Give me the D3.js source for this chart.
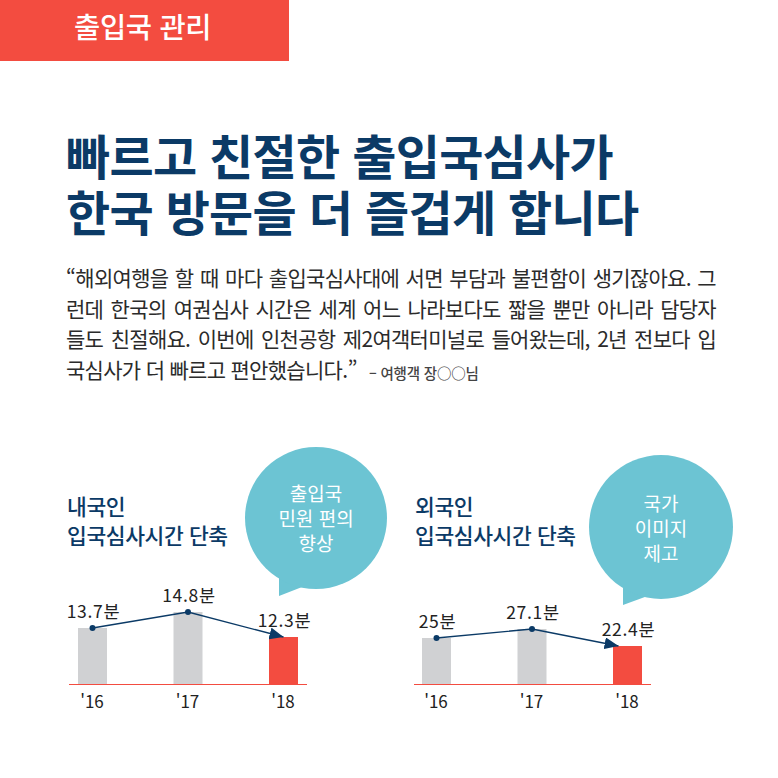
<!DOCTYPE html>
<html lang="ko">
<head>
<meta charset="utf-8">
<script src="https://d3js.org/d3.v7.min.js"></script>
<style>
  html, body { margin: 0; padding: 0; background: #fff; }
  svg { display: block; font-family: "Noto Sans CJK KR", sans-serif; }
</style>
</head>
<body>
<div id="chart"></div>
<script>
var years = ["'16", "'17", "'18"];
var domesticValues = [13.7, 14.8, 12.3];
var foreignValues = [25, 27.1, 22.4];
var valueLabelsDomestic = ["13.7분", "14.8분", "12.3분"];
var valueLabelsForeign = ["25분", "27.1분", "22.4분"];

var banner = "출입국 관리";
var titleLines = ["빠르고 친절한 출입국심사가", "한국 방문을 더 즐겁게 합니다"];
var quoteLines = [
    "“해외여행을 할 때 마다 출입국심사대에 서면 부담과 불편함이 생기잖아요. 그",
    "런데 한국의 여권심사 시간은 세계 어느 나라보다도 짧을 뿐만 아니라 담당자",
    "들도 친절해요. 이번에 인천공항 제2여객터미널로 들어왔는데, 2년 전보다 입",
    "국심사가 더 빠르고 편안했습니다.”"
];
var quoteSource = "– 여행객 장○○님";
var domesticHeading = ["내국인", "입국심사시간 단축"];
var foreignHeading = ["외국인", "입국심사시간 단축"];
var domesticBubble = ["출입국", "민원 편의", "향상"];
var foreignBubble = ["국가", "이미지", "제고"];

var navy = "#0b3a66", red = "#f34c40", grey = "#d0d1d3", teal = "#6cc4d3";

var svg = d3.select("#chart").append("svg")
    .attr("width", 778)
    .attr("height", 778);

svg.append("defs").append("marker")
    .attr("id", "arrow")
    .attr("markerUnits", "userSpaceOnUse")
    .attr("viewBox", "0 0 14 12")
    .attr("refX", 14)
    .attr("refY", 6)
    .attr("markerWidth", 14)
    .attr("markerHeight", 12)
    .attr("orient", "auto")
    .append("path")
    .attr("d", "M0,0L14,6L0,12Z")
    .attr("fill", navy);

// header
svg.append("rect").attr("width", 289).attr("height", 61).attr("fill", red);
svg.append("text").attr("x", 74).attr("y", 38)
    .attr("fill", "#fff").attr("font-size", 28.5).attr("font-weight", 500)
    .attr("letter-spacing", -0.3)
    .text(banner);

svg.selectAll(".title").data(titleLines).enter().append("text")
    .attr("class", "title")
    .attr("x", 66)
    .attr("y", function (d, i) { return 175 + i * 56; })
    .attr("fill", navy).attr("font-size", 48).attr("font-weight", 700)
    .attr("letter-spacing", -0.7)
    .text(function (d) { return d; });

// quote, justified by widening the word gaps
var quote = svg.selectAll(".quote").data(quoteLines).enter().append("text")
    .attr("class", "quote")
    .attr("x", 66)
    .attr("y", function (d, i) { return 286 + i * 30.7; })
    .attr("fill", "#2b2b2b").attr("font-size", 21)
    .attr("letter-spacing", -0.7)
    .text(function (d) { return d; });

quote.each(function (d, i) {
    if (i === quoteLines.length - 1) return;
    var gaps = d.split(" ").length - 1;
    var extra = (650 - this.getComputedTextLength()) / gaps;
    d3.select(this).attr("word-spacing", extra);
});

svg.append("text").attr("x", 369).attr("y", 379)
    .attr("fill", "#444").attr("font-size", 14.5).attr("font-weight", 500)
    .attr("letter-spacing", -0.2)
    .text(quoteSource);

function drawPanel(opt) {
    var g = svg.append("g");

    g.selectAll(".heading").data(opt.heading).enter().append("text")
        .attr("x", opt.headingX)
        .attr("y", function (d, i) { return 515 + i * 29; })
        .attr("fill", navy).attr("font-size", 21.5).attr("font-weight", 500)
        .attr("letter-spacing", -0.4)
        .text(function (d) { return d; });

    // speech bubble
    g.append("path")
        .attr("d", opt.tail)
        .attr("fill", teal);
    g.append("circle")
        .attr("cx", opt.bubble[0]).attr("cy", opt.bubble[1]).attr("r", opt.bubble[2])
        .attr("fill", teal);
    g.selectAll(".bubble").data(opt.bubbleText).enter().append("text")
        .attr("x", opt.bubble[0])
        .attr("y", function (d, i) { return opt.bubbleY + i * 25; })
        .attr("text-anchor", "middle")
        .attr("fill", "#fff").attr("font-size", 19)
        .text(function (d) { return d; });

    var x = d3.scalePoint().domain(years).range(opt.xRange);
    // the source bars are not drawn to one linear ratio, so the scale is piecewise
    var y = d3.scaleLinear().domain(opt.yDomain).range(opt.yRange);
    var baseY = 684;

    g.selectAll(".bar").data(opt.values).enter().append("rect")
        .attr("class", "bar")
        .attr("x", function (d, i) { return x(years[i]) - 14.5; })
        .attr("y", function (d) { return y(d); })
        .attr("width", 29)
        .attr("height", function (d) { return baseY - y(d); })
        .attr("fill", function (d, i) { return i === 2 ? red : grey; });

    g.append("line")
        .attr("x1", opt.baseX[0]).attr("x2", opt.baseX[1])
        .attr("y1", baseY + 0.5).attr("y2", baseY + 0.5)
        .attr("stroke", red).attr("stroke-width", 1.2);

    var line = d3.line()
        .x(function (d, i) { return x(years[i]) - (i === 2 ? opt.tipInset : 0); })
        .y(function (d) { return y(d); });

    g.append("path")
        .attr("d", line(opt.values))
        .attr("fill", "none")
        .attr("stroke", navy).attr("stroke-width", 1.3)
        .attr("marker-end", "url(#arrow)");

    g.selectAll(".dot").data(opt.values.slice(0, 2)).enter().append("circle")
        .attr("cx", function (d, i) { return x(years[i]); })
        .attr("cy", function (d) { return y(d); })
        .attr("r", 3)
        .attr("fill", navy);

    g.selectAll(".val").data(opt.values).enter().append("text")
        .attr("x", function (d, i) { return x(years[i]) + 1; })
        .attr("y", function (d) { return y(d) - 10; })
        .attr("text-anchor", "middle")
        .attr("fill", "#222").attr("font-size", 17.5)
        .attr("letter-spacing", 0.7)
        .text(function (d, i) { return opt.labels[i]; });

    var axis = g.append("g")
        .attr("transform", "translate(-1," + (baseY + 24) + ")")
        .call(d3.axisBottom(x).tickSize(0).tickPadding(0));
    axis.select(".domain").remove();
    axis.selectAll("text")
        .attr("dy", 0)
        .attr("fill", "#222")
        .style("font-family", "'Noto Sans CJK KR', sans-serif")
        .style("font-size", "17px");
}

drawPanel({
    heading: domesticHeading, headingX: 67,
    bubble: [316, 518, 71], bubbleText: domesticBubble, bubbleY: 501,
    tail: "M279,560L279,596L320,580Z",
    values: domesticValues, labels: valueLabelsDomestic,
    xRange: [92.5, 283.5], baseX: [69, 307],
    yDomain: [12.3, 13.7, 14.8], yRange: [637, 628, 612],
    tipInset: 0
});

drawPanel({
    heading: foreignHeading, headingX: 415,
    bubble: [661, 527, 72], bubbleText: foreignBubble, bubbleY: 511,
    tail: "M623,570L623,605L664,590Z",
    values: foreignValues, labels: valueLabelsForeign,
    xRange: [436.5, 627.5], baseX: [414, 651],
    yDomain: [22.4, 25, 27.1], yRange: [646, 638, 629],
    tipInset: 9
});
</script>
</body>
</html>
